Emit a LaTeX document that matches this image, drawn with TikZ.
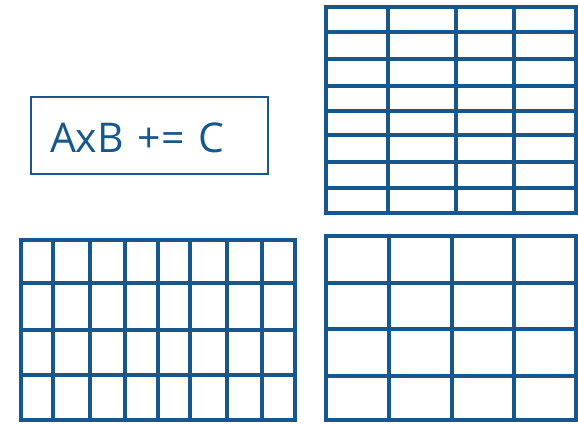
\documentclass[tikz,border=0pt]{standalone}
\usepackage{fontspec}
\setmainfont{Open Sans}
\definecolor{gridblue}{RGB}{22,88,142}
\tikzset{
  gridline/.style={draw=gridblue, line width=4.8pt, line join=miter},
  labelbox/.style={draw=gridblue, line width=1.4pt, text=gridblue, text width=199pt,
    align=left, inner xsep=19pt, inner ysep=0pt, minimum height=77pt,
    text height=33pt, text depth=0pt, font=\fontsize{41}{43}\selectfont},
}

\begin{document}
\begin{tikzpicture}[x=1pt, y=-1pt]
  \useasboundingbox (0,0) rectangle (578,423);
  % the expression
  \node[labelbox] (expr) at (149.5,135.5) {AxB += C};
  % matrix B (top right)
  \draw[gridline] (326,7) rectangle (576,213);
  \foreach \x in {388,456,514}
    \draw[gridline] (\x,7) -- (\x,213);
  \foreach \y in {32,59,86,111,135,162,188}
    \draw[gridline] (326,\y) -- (576,\y);
  % matrix A (bottom left)
  \draw[gridline] (21,240) rectangle (295,420);
  \foreach \x in {53,90,125,158,190,227,262}
    \draw[gridline] (\x,240) -- (\x,420);
  \foreach \y in {283,330,375}
    \draw[gridline] (21,\y) -- (295,\y);
  % matrix C (bottom right)
  \draw[gridline] (326,236) rectangle (576,420);
  \foreach \x in {389,452,514}
    \draw[gridline] (\x,236) -- (\x,420);
  \foreach \y in {283,329,376}
    \draw[gridline] (326,\y) -- (576,\y);
\end{tikzpicture}
\end{document}
